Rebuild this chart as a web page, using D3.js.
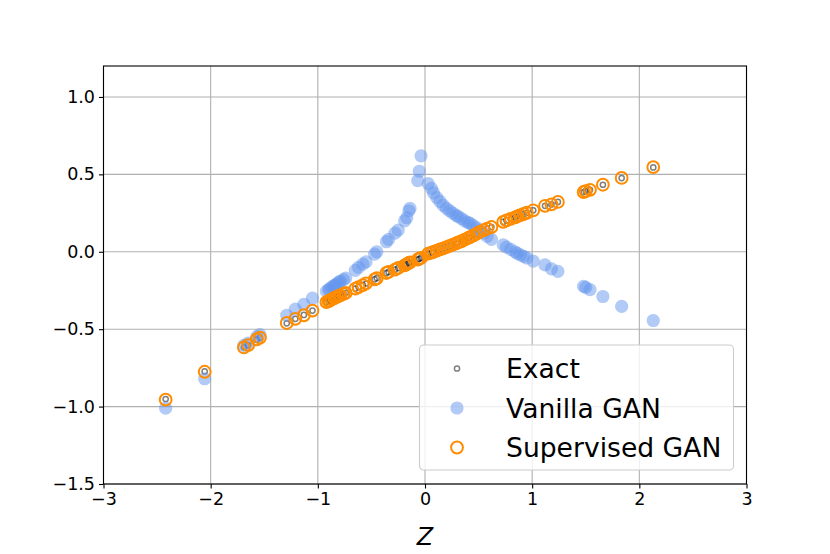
<!DOCTYPE html>
<html>
<head>
<meta charset="utf-8">
<script src="https://cdn.jsdelivr.net/npm/d3@7"></script>
<style>
  body { margin: 0; background: #fff; }
  text { font-family: "DejaVu Sans", sans-serif; }
</style>
</head>
<body>
<div id="chart"></div>
<script>
// sample points
var zValues = [
  -2.42, -2.056, -1.69, -1.65, -1.57, -1.54, -1.29, -1.21, -1.13, -1.05,
  -0.92, -0.90, -0.89, -0.87, -0.85, -0.84, -0.82, -0.80, -0.79, -0.76,
  -0.74, -0.65, -0.62, -0.58, -0.55, -0.47, -0.45, -0.36, -0.34, -0.28,
  -0.25, -0.19, -0.17, -0.15, -0.14, -0.068, -0.053, -0.037, 0.03, 0.06,
  0.08, 0.11, 0.14, 0.17, 0.20, 0.23, 0.26, 0.29, 0.31, 0.34,
  0.37, 0.40, 0.42, 0.45, 0.48, 0.51, 0.55, 0.58, 0.62, 0.73,
  0.76, 0.80, 0.84, 0.86, 0.89, 0.92, 0.95, 1.01, 1.12, 1.18,
  1.24, 1.48, 1.50, 1.54, 1.66, 1.835, 2.13
];
var exactValues = [
  -0.951, -0.773, -0.617, -0.603, -0.568, -0.556, -0.462, -0.433, -0.408, -0.380,
  -0.325, -0.318, -0.315, -0.307, -0.300, -0.297, -0.290, -0.284, -0.280, -0.272,
  -0.265, -0.238, -0.228, -0.215, -0.205, -0.178, -0.170, -0.137, -0.130, -0.115,
  -0.105, -0.088, -0.080, -0.072, -0.068, -0.050, -0.045, -0.040, -0.012, -0.005,
  0.000, 0.008, 0.015, 0.022, 0.030, 0.038, 0.046, 0.054, 0.060, 0.068,
  0.078, 0.088, 0.095, 0.105, 0.115, 0.128, 0.140, 0.150, 0.160, 0.193,
  0.203, 0.212, 0.222, 0.228, 0.236, 0.244, 0.252, 0.268, 0.297, 0.306,
  0.322, 0.386, 0.392, 0.400, 0.433, 0.476, 0.545
];
var vanillaValues = [
  -1.010, -0.820, -0.605, -0.590, -0.548, -0.535, -0.410, -0.370, -0.340, -0.300,
  -0.256, -0.246, -0.240, -0.228, -0.220, -0.215, -0.205, -0.196, -0.190, -0.180,
  -0.170, -0.120, -0.100, -0.080, -0.065, -0.015, 0.000, 0.065, 0.080, 0.120,
  0.140, 0.200, 0.220, 0.265, 0.280, 0.460, 0.520, 0.620, 0.440, 0.410,
  0.380, 0.350, 0.325, 0.300, 0.280, 0.265, 0.250, 0.235, 0.228, 0.215,
  0.200, 0.190, 0.183, 0.170, 0.155, 0.140, 0.120, 0.100, 0.080, 0.045,
  0.030, 0.015, 0.000, -0.010, -0.020, -0.030, -0.040, -0.060, -0.085, -0.110,
  -0.127, -0.224, -0.230, -0.245, -0.289, -0.353, -0.444
];
var supervisedValues = [
  -0.955, -0.775, -0.618, -0.603, -0.566, -0.555, -0.460, -0.433, -0.410, -0.380,
  -0.325, -0.318, -0.316, -0.307, -0.300, -0.297, -0.290, -0.284, -0.281, -0.272,
  -0.266, -0.238, -0.228, -0.215, -0.204, -0.178, -0.171, -0.137, -0.130, -0.115,
  -0.104, -0.088, -0.080, -0.072, -0.068, -0.050, -0.045, -0.040, -0.012, -0.005,
  0.000, 0.008, 0.015, 0.022, 0.030, 0.038, 0.046, 0.054, 0.060, 0.068,
  0.078, 0.088, 0.095, 0.105, 0.115, 0.128, 0.140, 0.150, 0.160, 0.193,
  0.203, 0.212, 0.222, 0.228, 0.236, 0.244, 0.252, 0.268, 0.297, 0.306,
  0.322, 0.386, 0.392, 0.400, 0.433, 0.477, 0.547
];
var xTicks = [-3, -2, -1, 0, 1, 2, 3];
var yTicks = [-1.5, -1.0, -0.5, 0.0, 0.5, 1.0];
var seriesNames = ["Exact", "Vanilla GAN", "Supervised GAN"];

var svgWidth = 830;
var svgHeight = 554;

var margin = {
  top: 66,
  right: 83.5,
  bottom: 70,
  left: 103.5
};

var width = svgWidth - margin.left - margin.right;
var height = svgHeight - margin.top - margin.bottom;

var svg = d3.select("#chart")
  .append("svg")
  .attr("width", svgWidth)
  .attr("height", svgHeight);

var chartGroup = svg.append("g")
  .attr("transform", `translate(${margin.left}, ${margin.top})`);

var xScale = d3.scaleLinear().domain([-3, 3]).range([0, width]);
var yScale = d3.scaleLinear().domain([-1.5, 1.2]).range([height, 0]);

// grid
chartGroup.append("g")
  .selectAll("line")
  .data(xTicks)
  .enter()
  .append("line")
  .attr("x1", d => xScale(d))
  .attr("x2", d => xScale(d))
  .attr("y1", 0)
  .attr("y2", height)
  .attr("stroke", "#b0b0b0")
  .attr("stroke-width", 1.1);

chartGroup.append("g")
  .selectAll("line")
  .data(yTicks)
  .enter()
  .append("line")
  .attr("x1", 0)
  .attr("x2", width)
  .attr("y1", d => yScale(d))
  .attr("y2", d => yScale(d))
  .attr("stroke", "#b0b0b0")
  .attr("stroke-width", 1.1);

// axes
var bottomAxis = d3.axisBottom(xScale)
  .tickValues(xTicks)
  .tickSize(4.5)
  .tickPadding(4)
  .tickFormat(d => d3.format("d")(d).replace("-", "\u2212"));
var leftAxis = d3.axisLeft(yScale)
  .tickValues(yTicks)
  .tickSize(4.5)
  .tickPadding(4)
  .tickFormat(d => d3.format(".1f")(d).replace("-", "\u2212"));

var xAxis = chartGroup.append("g")
  .attr("transform", `translate(0, ${height})`)
  .call(bottomAxis);
var yAxis = chartGroup.append("g")
  .call(leftAxis);

[xAxis, yAxis].forEach(function(ax) {
  ax.select(".domain").remove();
  ax.selectAll("text")
    .attr("fill", "#000")
    .style("font-size", "17.5px")
    .style("font-family", "DejaVu Sans, sans-serif");
  ax.selectAll("line").attr("stroke", "#000").attr("stroke-width", 1.1);
});

// data
var points = zValues.map(function(z, i) {
  return { z: z, exact: exactValues[i], vanilla: vanillaValues[i], supervised: supervisedValues[i] };
});

svg.append("clipPath").attr("id", "plotClip")
  .append("rect")
  .attr("width", width)
  .attr("height", height);

var marks = chartGroup.append("g").attr("clip-path", "url(#plotClip)");

marks.append("g")
  .selectAll("circle")
  .data(points)
  .enter()
  .append("circle")
  .attr("cx", d => xScale(d.z))
  .attr("cy", d => yScale(d.exact))
  .attr("r", 2.6)
  .attr("fill", "none")
  .attr("stroke", "#000")
  .attr("stroke-opacity", 0.5)
  .attr("stroke-width", 1.5);

marks.append("g")
  .selectAll("circle")
  .data(points)
  .enter()
  .append("circle")
  .attr("cx", d => xScale(d.z))
  .attr("cy", d => yScale(d.vanilla))
  .attr("r", 6.6)
  .attr("fill", "cornflowerblue")
  .attr("fill-opacity", 0.5);

marks.append("g")
  .selectAll("circle")
  .data(points)
  .enter()
  .append("circle")
  .attr("cx", d => xScale(d.z))
  .attr("cy", d => yScale(d.supervised))
  .attr("r", 5.9)
  .attr("fill", "none")
  .attr("stroke", "darkorange")
  .attr("stroke-width", 2);

// frame
chartGroup.append("rect")
  .attr("width", width)
  .attr("height", height)
  .attr("fill", "none")
  .attr("stroke", "#000")
  .attr("stroke-width", 1.1);

// x label
chartGroup.append("text")
  .attr("x", width / 2)
  .attr("y", height + 61)
  .attr("text-anchor", "middle")
  .style("font-size", "24px")
  .style("font-style", "italic")
  .text("Z");

// legend
var legend = chartGroup.append("g")
  .attr("transform", `translate(${419.5 - margin.left}, ${345 - margin.top})`);

legend.append("rect")
  .attr("width", 314)
  .attr("height", 125)
  .attr("rx", 4)
  .attr("fill", "#fff")
  .attr("fill-opacity", 0.8)
  .attr("stroke", "#cccccc")
  .attr("stroke-width", 1.1);

var legendRows = legend.selectAll("g.row")
  .data(seriesNames)
  .enter()
  .append("g")
  .attr("class", "row")
  .attr("transform", (d, i) => `translate(0, ${23.5 + i * 39.5})`);

legendRows.each(function(d, i) {
  var row = d3.select(this);
  if (i === 0) {
    row.append("circle").attr("cx", 37.5).attr("cy", 0).attr("r", 2.6)
      .attr("fill", "none").attr("stroke", "#000").attr("stroke-opacity", 0.5).attr("stroke-width", 1.5);
  } else if (i === 1) {
    row.append("circle").attr("cx", 37.5).attr("cy", 0).attr("r", 6.6)
      .attr("fill", "cornflowerblue").attr("fill-opacity", 0.5);
  } else {
    row.append("circle").attr("cx", 37.5).attr("cy", 0).attr("r", 5.9)
      .attr("fill", "none").attr("stroke", "darkorange").attr("stroke-width", 2);
  }
  row.append("text")
    .attr("x", 86.5)
    .attr("y", 9.5)
    .style("font-size", "26.6px")
    .text(d);
});
</script>
</body>
</html>
